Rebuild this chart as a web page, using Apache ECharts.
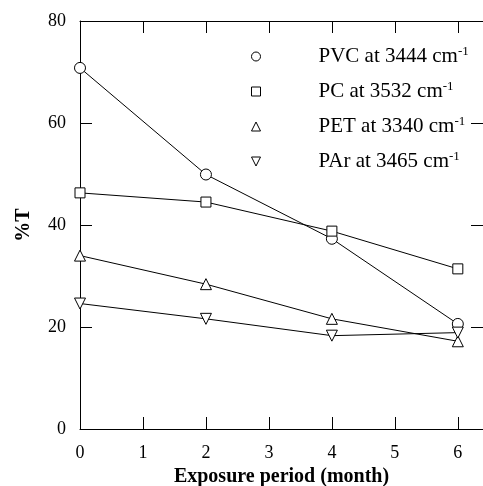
<!DOCTYPE html>
<html>
<head>
<meta charset="utf-8">
<script src="https://cdn.jsdelivr.net/npm/echarts@6/dist/echarts.min.js"></script>
<style>
html,body{margin:0;padding:0;background:#fff;}
#c{width:483px;height:486px;}
</style>
</head>
<body>
<div id="c"></div>
<script>
// Exposure period (months)
const months = [0, 2, 4, 6];
// %T values
const pvc = [70.8, 49.9, 37.3, 20.6];
const pc  = [46.3, 44.5, 38.8, 31.4];
const pet = [34.0, 28.4, 21.6, 17.2];
const par = [24.6, 21.6, 18.3, 18.9];
// legend labels (base text; superscript "-1" added as rich text)
const seriesNames = ['PVC at 3444 cm', 'PC at 3532 cm', 'PET at 3340 cm', 'PAr at 3465 cm'];
const xTicks = [0, 1, 2, 3, 4, 5, 6];
const yTicks = [0, 20, 40, 60, 80];

const FONT = '"Liberation Serif", "Times New Roman", serif';
const symbols = ['circle', 'rect', 'triangle', 'path://M0,0 L10,0 L5,10 Z'];
const values = [pvc, pc, pet, par];

const chart = echarts.init(document.getElementById('c'), null, {renderer: 'canvas'});

const series = values.map((v, i) => ({
  name: seriesNames[i],
  type: 'line',
  data: months.map((m, j) => [m, v[j]]),
  symbol: symbols[i],
  symbolSize: i === 1 ? 10 : 11,
  showAllSymbol: true,
  lineStyle: {color: '#000', width: 1},
  itemStyle: {color: '#fff', borderColor: '#000', borderWidth: 1},
  emphasis: {disabled: true},
  z: 2
}));

const option = {
  animation: false,
  backgroundColor: '#fff',
  grid: {left: 80, right: 0, top: 21, bottom: 57, outerBoundsMode: 'none', containLabel: false},
  legend: {
    orient: 'vertical',
    left: 246,
    top: 40,
    itemWidth: 9,
    itemHeight: 9,
    itemGap: 12,
    selectedMode: false,
    data: seriesNames.map((n, i) => ({name: n, icon: symbols[i]})),
    itemStyle: {color: '#fff', borderColor: '#000', borderWidth: 1},
    textStyle: {
      fontFamily: FONT, fontSize: 21, color: '#000', lineHeight: 23,
      rich: {
        sp: {width: 53},
        t: {fontFamily: FONT, fontSize: 21, color: '#000', lineHeight: 23},
        sup: {fontFamily: FONT, fontSize: 13, color: '#000', verticalAlign: 'top', lineHeight: 14}
      }
    },
    formatter: function (name) { return '{sp|}{t|' + name + '}{sup|-1}'; }
  },
  xAxis: [{
    type: 'value', position: 'bottom', min: 0, max: 6.4, interval: 1,
    name: 'Exposure period (month)', nameLocation: 'middle', nameGap: 31,
    nameTextStyle: {fontFamily: FONT, fontSize: 20, fontWeight: 'bold', color: '#000'},
    axisLine: {show: true, onZero: false, lineStyle: {color: '#000', width: 1}},
    axisTick: {show: true, inside: true, length: 12, lineStyle: {color: '#000'}},
    axisLabel: {fontFamily: FONT, fontSize: 18, color: '#000', margin: 15, showMaxLabel: false,
      formatter: v => xTicks.includes(v) ? String(v) : ''},
    splitLine: {show: false}
  }, {
    type: 'value', position: 'top', min: 0, max: 6.4, interval: 1,
    axisLine: {show: true, onZero: false, lineStyle: {color: '#000', width: 1}},
    axisTick: {show: true, inside: true, length: 12, lineStyle: {color: '#000'}},
    axisLabel: {show: false},
    splitLine: {show: false}
  }],
  yAxis: [{
    type: 'value', position: 'left', min: 0, max: 80, interval: 20,
    name: '%T', nameLocation: 'middle', nameGap: 46,
    nameTextStyle: {fontFamily: FONT, fontSize: 20, fontWeight: 'bold', color: '#000'},
    axisLine: {show: true, onZero: false, lineStyle: {color: '#000', width: 1}},
    axisTick: {show: true, inside: true, length: 12, lineStyle: {color: '#000'}},
    axisLabel: {fontFamily: FONT, fontSize: 18, color: '#000', margin: 14,
      formatter: v => yTicks.includes(v) ? String(v) : ''},
    splitLine: {show: false}
  }, {
    type: 'value', position: 'right', min: 0, max: 80, interval: 20,
    axisLine: {show: true, onZero: false, lineStyle: {color: '#000', width: 1}},
    axisTick: {show: true, inside: true, length: 12, lineStyle: {color: '#000'}},
    axisLabel: {show: false},
    splitLine: {show: false}
  }],
  series: series
};
chart.setOption(option);
</script>
</body>
</html>
